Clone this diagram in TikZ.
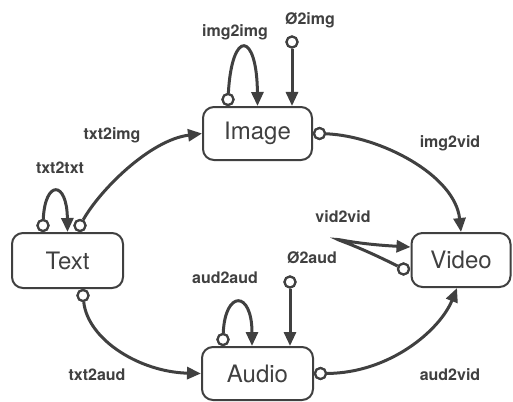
\documentclass[tikz,border=0pt]{standalone}
\usepackage{fontspec}
\setmainfont{TeX Gyre Heros}
\usetikzlibrary{arrows.meta,calc}
\definecolor{ink}{HTML}{404040}
\tikzset{
  modal/.style={draw=ink, line width=2pt, rounded corners=11pt, inner sep=0pt,
    text=ink, font=\fontsize{24}{27}\selectfont},
  port/.style={circle, draw=ink, fill=white, line width=2.2pt, minimum size=11pt, inner sep=0pt},
  conn/.style={draw=ink, line width=3pt, -{Triangle[length=14pt,width=12pt]}},
  lbl/.style={text=ink, font=\fontsize{16}{18}\selectfont\bfseries, inner sep=0pt},
}
\begin{document}
\begin{tikzpicture}[x=1pt,y=-1pt]
\useasboundingbox (0,0) rectangle (513,401);
% boxes
\node[modal, minimum width=109pt, minimum height=53pt] (img) at (257.5,133.5) {Image};
\node[modal, minimum width=111pt, minimum height=55pt] (txt) at (67.5,260.5) {Text};
\node[modal, minimum width=99pt, minimum height=54pt] (vid) at (461,260) {Video};
\node[modal, minimum width=111pt, minimum height=53pt] (aud) at (257.5,373.5) {Audio};
% ports
\node[port] (pii) at ($(img.north)+(-29.5,-6.5)$) {};
\node[port] (p0i) at (292,42) {};
\node[port] (piv) at ($(img.east)+(6.5,0)$) {};
\node[port] (ptt) at ($(txt.north)+(-24.5,-6.5)$) {};
\node[port] (pti) at ($(txt.north)+(12.5,-6.5)$) {};
\node[port] (pta) at ($(txt.south)+(15.5,6.5)$) {};
\node[port] (pvv) at ($(vid.west)+(-7,9)$) {};
\node[port] (paa) at ($(aud.north)+(-34.5,-6.5)$) {};
\node[port] (p0a) at (290,282) {};
\node[port] (pav) at ($(aud.east)+(6.5,0)$) {};
% connectors
\draw[conn] (pii) .. controls (232,28) and (257,32) .. (img.north);
\draw[conn] (p0i) -- ($(img.north)+(34.5,0)$);
\draw[conn] (ptt) .. controls (45,180) and (67,180) .. (txt.north);
\draw[conn] (pti) .. controls (100,190) and (150,140) .. (img.west);
\draw[conn] (piv) .. controls (380,136) and (455,175) .. (vid.north);
\draw[conn] (pta) .. controls (88,340) and (140,372) .. (aud.west);
\draw[conn] (pvv) .. controls (318,226) and (318,242) .. ($(vid.west)+(0,-13)$);
\draw[conn] (paa) .. controls (225,290) and (252,290) .. ($(aud.north)+(-5.5,0)$);
\draw[conn] (p0a) -- ($(aud.north)+(32.5,0)$);
\draw[conn] (pav) .. controls (390,373) and (440,330) .. ($(vid.south)+(-4,0)$);
% redraw ports on top
\foreach \p in {pii,p0i,piv,ptt,pti,pta,pvv,paa,p0a,pav}
  \draw[draw=ink, fill=white, line width=2.2pt] (\p) circle (5.5pt);
% labels
\node[lbl] (limg) at (235,32) {img2img};
\node[lbl] (l0i) at (310,20) {Ø2img};
\node[lbl] (ltt) at (60,168) {txt2txt};
\node[lbl] (lti) at (112,135) {txt2img};
\node[lbl] (liv) at (450,143) {img2vid};
\node[lbl] (lvv) at (343,217) {vid2vid};
\node[lbl] (l0a) at (312,258) {Ø2aud};
\node[lbl] (laa) at (225,278) {aud2aud};
\node[lbl] (lta) at (97,375) {txt2aud};
\node[lbl] (lav) at (450,375) {aud2vid};
\end{tikzpicture}
\end{document}
